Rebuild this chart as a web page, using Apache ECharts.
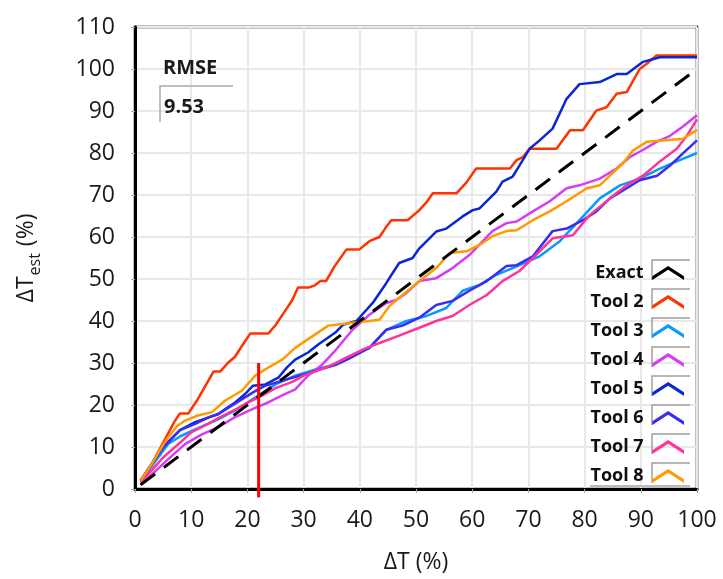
<!DOCTYPE html>
<html>
<head>
<meta charset="utf-8">
<script src="https://cdn.jsdelivr.net/npm/echarts@6/dist/echarts.min.js"></script>
<style>html,body{margin:0;padding:0;background:#fff;}#c{width:723px;height:579px;}</style>
</head>
<body>
<div id="c"></div>
<script>
// ---- data ----
const seriesNames = ['Exact', 'Tool 2', 'Tool 3', 'Tool 4', 'Tool 5', 'Tool 6', 'Tool 7', 'Tool 8'];
const seriesColors = ['#000000', '#FF3300', '#0A99FF', '#D63CF5', '#0A28D2', '#3A2CF0', '#FF3399', '#FF9A00'];
const xTicks = [0, 10, 20, 30, 40, 50, 60, 70, 80, 90, 100];
const yTicks = [0, 10, 20, 30, 40, 50, 60, 70, 80, 90, 100, 110];
const rmseLabel = 'RMSE';
const rmseValue = '9.53';
const markerX = 22;
const markerBottom = -2;
const markerTop = 30;

const exact = [[1,1],[100,100]];
const tool2 = [[1,2],[3,6],[5,11],[7,16],[8,18],[9.5,18],[11,21],[12.5,24.5],[14,28],[15.2,28],[16.5,30],[17.8,31.5],[19,34],[20.5,37],[23.7,37],[25,39],[26.5,42],[28,45],[29,48],[31,48],[32,48.5],[33,49.5],[34,49.5],[35.5,53],[37.6,57],[39.9,57],[41.7,59],[43.5,60],[44.5,62],[45.6,64],[48.5,64],[50.6,66.4],[52,68.5],[53,70.4],[57.2,70.4],[59,73],[60.7,76.3],[66.7,76.3],[67.9,78.3],[69,79],[70.2,81],[75,81],[77.4,85.4],[79.7,85.4],[82.1,90.1],[83.9,90.9],[85.7,94.1],[87.5,94.5],[89.8,100],[91,101.2],[92.8,103.2],[100,103.2]];
const tool3 = [[1,2],[3,5.5],[5.9,10.7],[8,12.5],[10.7,14.2],[14.8,16.6],[17.8,18.7],[21.4,21.8],[25,24.9],[28.5,27],[32,28.4],[35.1,29.5],[38,31.5],[41.7,33.6],[44.7,37.9],[48.3,40],[51.9,41.2],[55.4,43.1],[58.3,47.2],[61.3,48.6],[64.3,51],[67.2,52.6],[72,55.4],[75.6,59],[79.1,64],[82.7,69.2],[86.3,72.3],[89.8,73.9],[93.4,76.3],[96.4,78],[100,80]];
const tool4 = [[1,1],[3,3.5],[5,6],[5.9,7.1],[8.9,10.7],[11.9,13],[14.8,14.7],[17.8,17.1],[20.9,19],[23.7,20.6],[26.2,22.3],[28.5,23.7],[30.8,27],[33.3,29.6],[35.6,32.9],[38.7,37.9],[41.7,41.5],[44.7,44.3],[46.5,45],[48.3,46.7],[50.6,49.5],[53.6,50.2],[56.5,52.6],[59.5,55.7],[63.6,61.4],[66.1,63.3],[67.9,63.7],[70.8,66.1],[73.8,68.5],[76.8,71.6],[79.1,72.3],[82.7,73.9],[85.7,76.3],[88.1,79.1],[89.8,80.3],[92.9,82.7],[95.2,84.1],[97.5,86.3],[100,89]];
const tool5 = [[1,2],[3,6],[5,10],[6.5,12],[8,14],[10.7,15.9],[13,17],[14.8,17.8],[16,19],[17.8,20.6],[19.5,22.5],[21,24.6],[23.2,24.9],[25.5,26.5],[27,28.9],[28.5,30.8],[30.8,32.5],[32.6,34.4],[35.6,37.2],[37,39.1],[39.4,40],[42.3,44.3],[44.7,49],[47,53.8],[49.4,55],[50.6,57.3],[53.6,61.3],[55.4,62],[58.3,64.9],[60.1,66.4],[61.3,66.8],[64.3,70.8],[65.4,73.2],[67.2,74.4],[68.4,77],[70.2,81],[72,83],[74.3,85.8],[76.8,92.9],[79.1,96.4],[82.7,96.9],[85.7,98.8],[87.5,98.8],[90.4,101.7],[93.4,102.8],[100,102.8]];
const tool6 = [[1,2],[3,6],[5,10],[8,14],[10.7,15.5],[13,17],[15,18],[18,20.5],[21,23],[23,24.5],[25.5,25.5],[28,26.5],[30.8,27.5],[33,28.5],[35.6,29.5],[38,31],[41.7,33.6],[44.7,37.9],[47.6,38.9],[50.6,40.8],[53.6,43.8],[56.5,44.8],[59.5,47.2],[62.6,49.5],[66.1,53.1],[67.9,53.3],[70.8,55.4],[74.3,61.4],[76.8,62],[79.7,64],[82.1,66.1],[84.5,69.2],[87.5,71.6],[89.8,73.5],[92.9,74.6],[95.2,77],[97.5,79.9],[100,83]];
const tool7 = [[1,1.5],[3,4.5],[5,7.5],[8,11],[10,13.5],[13,15.5],[15,17],[18,19],[20,20.5],[23,22.5],[25,24],[28,25.5],[30,27],[33,28.5],[35,29.5],[38,31.5],[41,33.5],[44,35],[47,36.5],[50.6,38.4],[53.6,40],[56.5,41.2],[59.5,43.8],[62.6,46.2],[65.4,49.5],[68.4,51.9],[70.8,55],[74.3,59.7],[77.9,60.4],[80.9,65.2],[84.5,69.2],[87.5,72.3],[90.4,74.6],[93.4,78],[96.4,81],[98.2,84.1],[100,88]];
const tool8 = [[1,2],[3,6],[5,10.5],[5.9,12.3],[7.5,15],[8.9,16.3],[11.2,17.5],[13.7,18.3],[16,21],[19,23.4],[21.4,27],[23.7,28.9],[26.2,30.8],[28.5,33.6],[31.6,36.4],[34.4,38.9],[35.8,39.1],[38.7,39.6],[41.7,40],[43.5,40.3],[45.3,43.6],[47.6,46.2],[50.6,49.5],[53.6,52.6],[56,56.2],[59,56.6],[61.3,58.1],[63.6,60.2],[66.1,61.4],[67.9,61.6],[70.8,64],[73.8,66.1],[76.8,68.5],[80.4,71.6],[82.7,72.3],[84.5,74.6],[86.8,77.5],[88.6,80.6],[91.1,82.7],[93.4,82.9],[97.5,83.4],[100,85.5]];
const allData = [exact, tool2, tool3, tool4, tool5, tool6, tool7, tool8];

// ---- chart ----
const FONT = '"Open Sans", "DejaVu Sans", sans-serif';
const chevron = 'path://M0,11 L17,0 L34,11 L34,15 L17,4 L0,15 Z';
const chart = echarts.init(document.getElementById('c'), null, {renderer: 'canvas'});

const LEG_TOP = 259, LEG_ROW = 29, LEG_GAP = 11;

const series = seriesNames.map((n, i) => ({
  name: n,
  type: 'line',
  data: allData[i],
  showSymbol: false,
  symbol: 'none',
  smooth: false,
  z: i === 0 ? 3 : 2,
  lineStyle: {
    color: seriesColors[i],
    width: i === 0 ? 3 : 2.5,
    type: i === 0 ? [18, 11] : 'solid'
  },
  itemStyle: {color: seriesColors[i]},
  emphasis: {disabled: true}
}));
series.push({
  name: 'marker',
  type: 'line',
  data: [[markerX, markerBottom], [markerX, markerTop]],
  symbol: 'none',
  clip: false,
  z: 4,
  lineStyle: {color: '#FF0000', width: 3},
  emphasis: {disabled: true}
});

// gray frames behind the legend icons (decoration)
const frames = seriesNames.map((n, i) => {
  const cy = LEG_TOP + 11 + LEG_ROW * i;
  return {type: 'polyline', id: 'frame' + i, z: 1, shape: {points: [[652, cy + 10], [652, cy - 10], [690, cy - 10]]},
          style: {stroke: '#a0a0a0', lineWidth: 1.5, fill: null}};
});

chart.setOption({
  animation: false,
  backgroundColor: '#ffffff',
  grid: {left: 135, right: 26, top: 27, bottom: 87, show: true, borderColor: '#000', borderWidth: 2.5, backgroundColor: 'transparent'},
  xAxis: {
    type: 'value', min: xTicks[0], max: xTicks[xTicks.length - 1], interval: 10,
    name: 'ΔT (%)', nameLocation: 'middle', nameGap: 62,
    nameTextStyle: {fontFamily: FONT, fontSize: 23, color: '#1a1a1a'},
    axisLine: {show: true, onZero: false, lineStyle: {color: '#000', width: 3}},
    axisTick: {show: true, length: 4, lineStyle: {color: '#aaa'}},
    axisLabel: {fontFamily: FONT, fontSize: 23, color: '#1a1a1a', margin: 20},
    splitLine: {show: true, lineStyle: {color: '#e8e8e8', width: 2}}
  },
  yAxis: {
    type: 'value', min: yTicks[0], max: yTicks[yTicks.length - 1], interval: 10,
    name: '{a|ΔT}{s|est}{a| (%)}', nameLocation: 'middle', nameGap: 92, nameRotate: 90,
    nameTextStyle: {
      fontFamily: FONT, color: '#1a1a1a',
      rich: {
        a: {fontFamily: FONT, fontSize: 23, color: '#1a1a1a', lineHeight: 34, verticalAlign: 'middle'},
        s: {fontFamily: FONT, fontSize: 16, color: '#1a1a1a', lineHeight: 34, verticalAlign: 'bottom', padding: [0, 1, 0, 1]}
      }
    },
    axisLine: {show: true, onZero: false, lineStyle: {color: '#000', width: 3}},
    axisTick: {show: true, length: 4, lineStyle: {color: '#aaa'}},
    axisLabel: {fontFamily: FONT, fontSize: 23, color: '#1a1a1a', margin: 20},
    splitLine: {show: true, lineStyle: {color: '#e8e8e8', width: 2}}
  },
  legend: {
    data: seriesNames.map(n => ({name: n, icon: chevron})),
    orient: 'vertical', right: 34, top: LEG_TOP, align: 'right',
    itemWidth: 33, itemHeight: 14, itemGap: LEG_GAP,
    selectedMode: false,
    textStyle: {fontFamily: FONT, fontSize: 18, fontWeight: 'bold', color: '#111', padding: [0, 3, 0, 0]}
  },
  graphic: [
    {type: 'text', id: 'rmseLbl', x: 163, y: 68, z: 10, style: {text: rmseLabel, verticalAlign: 'middle', align: 'left', fontFamily: FONT, fontSize: 20, fontWeight: 'bold', fill: '#1a1a1a'}},
    {type: 'text', id: 'rmseVal', x: 164, y: 107, z: 10, style: {text: rmseValue, verticalAlign: 'middle', align: 'left', fontFamily: FONT, fontSize: 20, fontWeight: 'bold', fill: '#1a1a1a'}},
    {type: 'polyline', id: 'rmseFrame', z: 1, shape: {points: [[160, 122], [160, 86], [233, 86]]}, style: {stroke: '#aaa', lineWidth: 1.5, fill: null}},
    {type: 'polyline', id: 'legBottom', z: 10, shape: {points: [[590, 486], [690, 486]]}, style: {stroke: '#bbb', lineWidth: 2, fill: null}}
  ].concat(frames),
  series: series
});
</script>
</body>
</html>
